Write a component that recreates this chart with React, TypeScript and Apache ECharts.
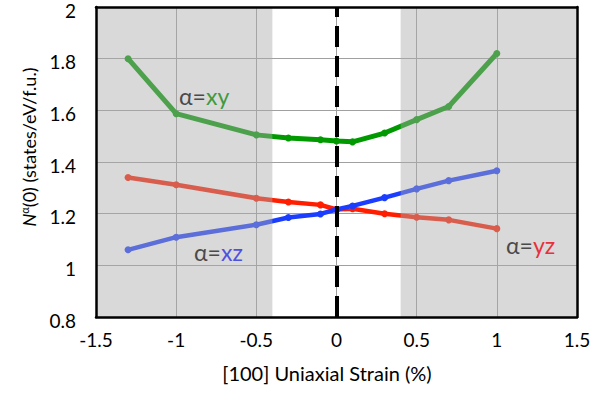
import React, { useEffect, useRef } from "react";
import * as echarts from "echarts";

const strain = [-1.3, -1.0, -0.5, -0.3, -0.1, 0, 0.1, 0.3, 0.5, 0.7, 1.0];
const nXY = [1.8, 1.587, 1.505, 1.493, 1.486, 1.481, 1.478, 1.512, 1.564, 1.615, 1.82];
const nYZ = [1.34, 1.312, 1.26, 1.245, 1.234, 1.216, 1.219, 1.2, 1.186, 1.176, 1.142];
const nXZ = [1.06, 1.109, 1.157, 1.185, 1.199, 1.216, 1.23, 1.262, 1.296, 1.328, 1.366];
const shadedRanges = [
  [-1.5, -0.4],
  [0.4, 1.5],
];
const xTicks = { min: -1.5, max: 1.5, interval: 0.5 };
const yTicks = { min: 0.8, max: 2, interval: 0.2 };

const FONT = "Lato";

export default function App() {
  const ref = useRef<HTMLDivElement>(null);
  useEffect(() => {
    if (!ref.current) return;
    const chart = echarts.init(ref.current, null, { renderer: "svg" });
    const pairs = (ys: number[]) => strain.map((x, i) => [x, ys[i]]);
    const lineSeries = (name: string, ys: number[], color: string, width: number) => ({
      name,
      type: "line",
      data: pairs(ys),
      z: 2,
      symbol: "circle",
      symbolSize: 7,
      itemStyle: { color },
      lineStyle: { color, width },
    });
    const borderAxis = {
      show: true,
      z: 20,
      axisLine: { show: true, onZero: false, lineStyle: { color: "#000", width: 2.5 } },
      axisTick: { show: false },
      axisLabel: { show: false },
      splitLine: { show: false },
    };
    chart.setOption({
      animation: false,
      backgroundColor: "#fff",
      grid: { left: 96, right: 27, top: 7, bottom: 79, outerBoundsMode: "none", containLabel: false },
      xAxis: [
        {
          type: "value",
          ...xTicks,
          position: "bottom",
          axisLine: { show: false, onZero: false },
          axisTick: { show: false },
          axisLabel: { color: "#000", fontFamily: FONT, fontSize: 19, margin: 13 },
          splitLine: { show: true, lineStyle: { color: "#a0a0a0", width: 1 } },
        },
        { type: "value", ...xTicks, position: "bottom", ...borderAxis },
        { type: "value", ...xTicks, position: "top", ...borderAxis },
      ],
      yAxis: [
        {
          type: "value",
          ...yTicks,
          position: "left",
          axisLine: { show: false, onZero: false },
          axisTick: { show: false },
          axisLabel: {
            color: "#000",
            fontFamily: FONT,
            fontSize: 19,
            margin: 20,
            verticalAlign: "top",
            lineHeight: 6,
            formatter: (v: number) => String(Math.round(v * 10) / 10),
          },
          splitLine: { show: true, lineStyle: { color: "#a0a0a0", width: 1 } },
        },
        { type: "value", ...yTicks, position: "left", ...borderAxis },
        { type: "value", ...yTicks, position: "right", ...borderAxis },
      ],
      series: [
        lineSeries("xy", nXY, "#009a00", 5),
        lineSeries("yz", nYZ, "#ff1e00", 4.5),
        lineSeries("xz", nXZ, "#1a3dff", 4.5),
        {
          name: "shade",
          type: "line",
          data: [],
          z: 5,
          silent: true,
          markArea: {
            silent: true,
            z: 10,
            itemStyle: { color: "rgba(170,170,170,0.45)" },
            data: shadedRanges.map(([a, b]) => [{ xAxis: a }, { xAxis: b }]),
          },
        },
        {
          name: "zero",
          type: "line",
          data: [],
          z: 15,
          silent: true,
          markLine: {
            silent: true,
            z: 15,
            symbol: "none",
            label: { show: false },
            lineStyle: { color: "#000", width: 4, type: [21, 9] },
            data: [{ xAxis: 0 }],
          },
        },
      ],
      graphic: [
        {
          type: "text",
          z: 30,
          x: 29,
          y: 147,
          rotation: Math.PI / 2,
          style: {
            text: "{n|N}{s|α}{r|(0) (states/eV/f.u.)}",
            align: "center",
            verticalAlign: "middle",
            fill: "#000",
            rich: {
              n: { fontFamily: FONT, fontSize: 18, fontStyle: "italic", fill: "#000" },
              s: { fontFamily: FONT, fontSize: 11, fill: "#000", verticalAlign: "top", padding: [0, 0, 9, 0] },
              r: { fontFamily: FONT, fontSize: 18, fill: "#000" },
            },
          },
        },
        {
          type: "text",
          z: 30,
          x: 327,
          y: 373,
          style: { text: "[100] Uniaxial Strain (%)", align: "center", verticalAlign: "middle", fontFamily: FONT, fontSize: 20, fill: "#000" },
        },
        {
          type: "text",
          z: 30,
          x: 179,
          y: 96,
          style: {
            text: "{a|α=}{b|xy}",
            verticalAlign: "middle",
            rich: {
              a: { fontFamily: FONT, fontSize: 23, fill: "#4a4a4a" },
              b: { fontFamily: FONT, fontSize: 23, fill: "#3f9a3f" },
            },
          },
        },
        {
          type: "text",
          z: 30,
          x: 194,
          y: 252,
          style: {
            text: "{a|α=}{b|xz}",
            verticalAlign: "middle",
            rich: {
              a: { fontFamily: FONT, fontSize: 23, fill: "#4a4a4a" },
              b: { fontFamily: FONT, fontSize: 23, fill: "#5050e0" },
            },
          },
        },
        {
          type: "text",
          z: 30,
          x: 506,
          y: 245,
          style: {
            text: "{a|α=}{b|yz}",
            verticalAlign: "middle",
            rich: {
              a: { fontFamily: FONT, fontSize: 23, fill: "#4a4a4a" },
              b: { fontFamily: FONT, fontSize: 23, fill: "#e8303a" },
            },
          },
        },
      ],
    });
    return () => chart.dispose();
  }, []);
  return <div ref={ref} style={{ position: "fixed", left: 0, top: 0, width: 604, height: 396 }} />;
}
